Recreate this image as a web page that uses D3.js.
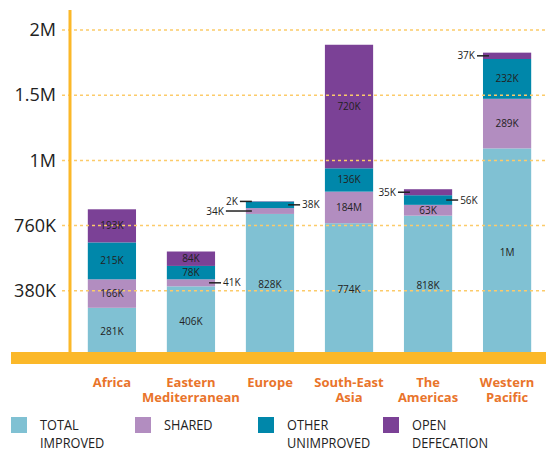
<!DOCTYPE html>
<html lang="en">
<head>
<meta charset="UTF-8">
<title>Sanitation by region</title>
<style>
    body { margin: 0; background: #fff; }
    .tick text { font-family: "Open Sans", sans-serif; font-size: 18px; fill: #222; }
    .segLabel, .callText { font-family: "Open Sans", sans-serif; font-size: 10px; fill: #222; }
    .catLabel { font-family: "Open Sans", sans-serif; font-weight: bold; font-size: 13px; fill: #e9742b; text-anchor: middle; }
    .legText { font-family: "Open Sans", sans-serif; font-size: 15px; fill: #222; }
</style>
</head>
<body>
<script src="https://cdn.jsdelivr.net/npm/d3@7/dist/d3.min.js"></script>
<script>
// values in thousands
const categories = ['Africa', 'Eastern Mediterranean', 'Europe', 'South-East Asia', 'The Americas', 'Western Pacific'];
const catLines = [['Africa'], ['Eastern', 'Mediterranean'], ['Europe'], ['South-East', 'Asia'], ['The', 'Americas'], ['Western', 'Pacific']];
const keys = ['improved', 'shared', 'other', 'open'];
const legendLines = [['TOTAL', 'IMPROVED'], ['SHARED'], ['OTHER', 'UNIMPROVED'], ['OPEN', 'DEFECATION']];
const totalImproved = [281, 406, 828, 774, 818, 1210];
const shared = [166, 41, 34, 184, 63, 289];
const otherUnimproved = [215, 78, 38, 136, 56, 232];
const openDefecation = [193, 84, 2, 720, 35, 37];
const yTicks = [380, 760, 1140, 1520, 1900];
const yTickLabels = ['380K', '760K', '1M', '1.5M', '2M'];
// the original prints this one as "184M"
const labelFixes = {'South-East Asia|shared': '184M'};
// small segments labelled outside with a leader line
const callouts = [
    {cat: 'Eastern Mediterranean', key: 'shared', side: 'right'},
    {cat: 'Europe', key: 'open', side: 'left'},
    {cat: 'Europe', key: 'shared', side: 'left', out: 20},
    {cat: 'Europe', key: 'other', side: 'right'},
    {cat: 'The Americas', key: 'open', side: 'left'},
    {cat: 'The Americas', key: 'other', side: 'right'},
    {cat: 'Western Pacific', key: 'open', side: 'left'}
];

const colors = {improved: '#80c1d3', shared: '#b28dc0', other: '#0087aa', open: '#7b4196'};
const orange = '#fbb829';

let width = 546, height = 452;
let svg = d3.select('body').append('svg')
    .attr('width', width)
    .attr('height', height);

let data = categories.map((c, i) => ({
    cat: c,
    improved: totalImproved[i],
    shared: shared[i],
    other: otherUnimproved[i],
    open: openDefecation[i]
}));

let x = d3.scaleBand()
    .domain(categories)
    .range([72, 547])
    .paddingInner(0.39)
    .paddingOuter(0.2);

let y = d3.scaleLinear()
    .domain([0, 1900])
    .range([356, 30]);

let fmt = v => v >= 1000 ? Math.floor(v / 1000) + 'M' : v + 'K';

let stacked = d3.stack().keys(keys)(data);

// bars
let layers = svg.selectAll('.layer')
    .data(stacked)
    .enter()
    .append('g')
    .attr('class', 'layer')
    .attr('fill', d => colors[d.key]);

layers.selectAll('rect')
    .data(d => d)
    .enter()
    .append('rect')
    .attr('x', d => x(d.data.cat))
    .attr('y', d => y(d[1]))
    .attr('width', x.bandwidth())
    .attr('height', d => y(d[0]) - y(d[1]));

// grid lines sit over the bars
svg.append('g')
    .selectAll('line')
    .data(yTicks)
    .enter()
    .append('line')
    .attr('x1', 62)
    .attr('x2', width)
    .attr('y1', d => y(d))
    .attr('y2', d => y(d))
    .attr('stroke', '#fccb6a')
    .attr('stroke-width', 1.5)
    .attr('stroke-dasharray', '3,3');

// y axis
let yAxis = d3.axisLeft(y)
    .tickValues(yTicks)
    .tickFormat((d, i) => yTickLabels[i])
    .tickSize(0)
    .tickPadding(0);

svg.append('g')
    .attr('transform', 'translate(56,0)')
    .call(yAxis)
    .call(g => g.select('.domain').remove());

svg.append('line')
    .attr('x1', 70).attr('x2', 70)
    .attr('y1', 10).attr('y2', 352)
    .attr('stroke', orange)
    .attr('stroke-width', 3);

svg.append('rect')
    .attr('x', 11)
    .attr('y', 352)
    .attr('width', width - 11)
    .attr('height', 12)
    .attr('fill', orange);

// segment labels
let isCallout = (cat, key) => callouts.some(c => c.cat === cat && c.key === key);
let labelOf = (cat, key, v) => labelFixes[cat + '|' + key] || fmt(v);

stacked.forEach(layer => {
    layer.forEach(d => {
        let cat = d.data.cat;
        if (isCallout(cat, layer.key)) return;
        svg.append('text')
            .attr('class', 'segLabel')
            .attr('x', x(cat) + x.bandwidth() / 2)
            .attr('y', (y(d[0]) + y(d[1])) / 2)
            .attr('dy', '0.35em')
            .attr('text-anchor', 'middle')
            .text(labelOf(cat, layer.key, d.data[layer.key]));
    });
});

callouts.forEach(c => {
    let layer = stacked.find(l => l.key === c.key);
    let d = layer.find(s => s.data.cat === c.cat);
    let cy = (y(d[0]) + y(d[1])) / 2;
    let out = c.out || 6;
    let inner = 6;
    let x1, x2, tx, anchor;
    if (c.side === 'left') {
        x2 = x(c.cat) + inner;
        x1 = x(c.cat) - out;
        tx = x1 - 2;
        anchor = 'end';
    } else {
        x1 = x(c.cat) + x.bandwidth() - inner;
        x2 = x(c.cat) + x.bandwidth() + out;
        tx = x2 + 2;
        anchor = 'start';
    }
    svg.append('line')
        .attr('x1', x1).attr('x2', x2)
        .attr('y1', cy).attr('y2', cy)
        .attr('stroke', '#222')
        .attr('stroke-width', 1.5);
    svg.append('text')
        .attr('class', 'callText')
        .attr('x', tx)
        .attr('y', cy)
        .attr('dy', '0.35em')
        .attr('text-anchor', anchor)
        .text(labelOf(c.cat, c.key, d.data[c.key]));
});

// category labels
categories.forEach((c, i) => {
    let t = svg.append('text')
        .attr('class', 'catLabel')
        .attr('x', x(c) + x.bandwidth() / 2)
        .attr('y', 387);
    catLines[i].forEach((line, j) => {
        t.append('tspan')
            .attr('x', x(c) + x.bandwidth() / 2)
            .attr('dy', j === 0 ? 0 : 15)
            .text(line);
    });
});

// legend (text squeezed a little, the original face is condensed)
let legX = [11, 135, 258, 383];
keys.forEach((k, i) => {
    svg.append('rect')
        .attr('x', legX[i])
        .attr('y', 417)
        .attr('width', 16)
        .attr('height', 16)
        .attr('fill', colors[k]);
    let t = svg.append('text')
        .attr('class', 'legText')
        .attr('transform', `translate(${legX[i] + 29},430) scale(0.85,1)`);
    legendLines[i].forEach((line, j) => {
        t.append('tspan')
            .attr('x', 0)
            .attr('dy', j === 0 ? 0 : 18)
            .text(line);
    });
});
</script>
</body>
</html>
